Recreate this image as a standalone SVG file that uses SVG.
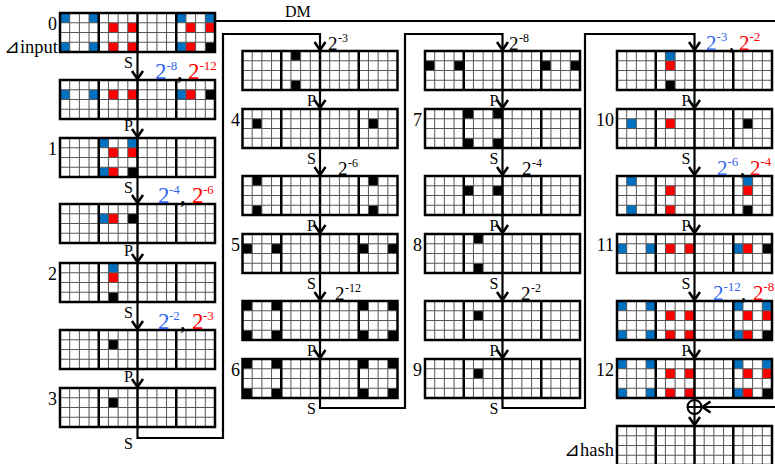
<svg xmlns="http://www.w3.org/2000/svg" width="775" height="464" viewBox="0 0 775 464">
<style>
text{font-family:"Liberation Serif","Times New Roman","DejaVu Serif",serif;fill:#000}
.n{font-size:18px;text-anchor:end}
.sp{font-size:16px}
.p1{font-size:23px}
.p2{font-size:19px}
.p4{font-size:21px}
.e{font-size:13px}
.e2{font-size:12px}
.bl{fill:#3366ee}
.rd{fill:#ff0000}
.b{fill:#0070c0}
.r{fill:#ff0000}
.k{fill:#000}
.thin{fill:none;stroke:#555;stroke-width:1}
.thick{fill:none;stroke:#000;stroke-width:2.5}
.conn{fill:none;stroke:#000;stroke-width:2.2}
.ar{marker-end:url(#ah)}
</style>
<defs>
<marker id="ah" markerUnits="userSpaceOnUse" markerWidth="14" markerHeight="14" refX="0" refY="0" orient="auto" overflow="visible">
<path d="M-9,-5.5 L-1,0 L-9,5.5" fill="none" stroke="#000" stroke-width="2.6"/>
</marker>
<rect id="c" width="9.69" height="9.75"/>
<g id="grid">
<path class="thin" d="M9.69 0V39M19.38 0V39M29.06 0V39M48.44 0V39M58.13 0V39M67.81 0V39M87.19 0V39M96.88 0V39M106.56 0V39M125.94 0V39M135.63 0V39M145.31 0V39M0 9.75H155M0 19.5H155M0 29.25H155"/>
<path class="thick" d="M0 0H155V39H0ZM38.75 0V39M77.5 0V39M116.25 0V39"/>
</g>
<g id="full">
<use href="#c" class="b" x="0" y="0"/><use href="#c" class="b" x="29.06" y="0"/><use href="#c" class="b" x="0" y="29.25"/><use href="#c" class="b" x="29.06" y="29.25"/>
<use href="#c" class="b" x="116.25" y="0"/><use href="#c" class="b" x="145.31" y="0"/><use href="#c" class="b" x="116.25" y="29.25"/>
<use href="#c" class="r" x="48.44" y="9.75"/><use href="#c" class="r" x="67.81" y="9.75"/><use href="#c" class="r" x="48.44" y="29.25"/><use href="#c" class="r" x="67.81" y="29.25"/>
<use href="#c" class="r" x="125.94" y="9.75"/><use href="#c" class="r" x="145.31" y="9.75"/><use href="#c" class="r" x="125.94" y="29.25"/>
<use href="#c" class="k" x="145.31" y="29.25"/>
</g>
<g id="corners">
<use href="#c" x="0" y="0"/><use href="#c" x="29.06" y="0"/><use href="#c" x="0" y="29.25"/><use href="#c" x="29.06" y="29.25"/>
<use href="#c" x="116.25" y="0"/><use href="#c" x="145.31" y="0"/><use href="#c" x="116.25" y="29.25"/><use href="#c" x="145.31" y="29.25"/>
</g>
</defs>
<rect width="775" height="464" fill="#fff"/>

<g id="connectors">
<path class="conn ar" d="M137.5 52V80"/>
<path class="conn ar" d="M137.5 119V138"/>
<path class="conn ar" d="M137.5 177V204"/>
<path class="conn ar" d="M137.5 243V263"/>
<path class="conn ar" d="M137.5 302V330"/>
<path class="conn ar" d="M137.5 369V388"/>
<path class="conn ar" d="M137.5 427V438H223V34H320V51"/>
<path class="conn ar" d="M320 90V109"/>
<path class="conn ar" d="M320 148V176"/>
<path class="conn ar" d="M320 215V234"/>
<path class="conn ar" d="M320 273V301"/>
<path class="conn ar" d="M320 340V359"/>
<path class="conn ar" d="M320 398V408H405V34H502.5V51"/>
<path class="conn ar" d="M502.5 90V109"/>
<path class="conn ar" d="M502.5 148V176"/>
<path class="conn ar" d="M502.5 215V234"/>
<path class="conn ar" d="M502.5 273V301"/>
<path class="conn ar" d="M502.5 340V359"/>
<path class="conn ar" d="M502.5 398V408H585V34H694.5V51"/>
<path class="conn ar" d="M694.5 90V109"/>
<path class="conn ar" d="M694.5 148V176"/>
<path class="conn ar" d="M694.5 215V234"/>
<path class="conn ar" d="M694.5 273V301"/>
<path class="conn ar" d="M694.5 340V359"/>
<path class="conn" d="M694.5 398V400"/>
<path class="conn ar" d="M694.5 414V426"/>
<path class="conn ar" d="M215 21H778V407H701.5"/>
<g id="xor">
<circle cx="694.5" cy="407" r="7" fill="#fff" stroke="#000" stroke-width="2"/>
<path d="M687.5 407H701.5M694.5 400V414" stroke="#000" stroke-width="2" fill="none"/>
</g>
<text x="285" y="17" class="sp">DM</text>
</g>

<!-- Column 1 -->
<g id="s0" transform="translate(60,13)"><use href="#full"/><use href="#grid"/></g>
<g id="s0s" transform="translate(60,80)">
<use href="#c" class="b" x="0" y="9.75"/><use href="#c" class="b" x="29.06" y="9.75"/><use href="#c" class="b" x="116.25" y="9.75"/>
<use href="#c" class="r" x="48.44" y="9.75"/><use href="#c" class="r" x="67.81" y="9.75"/><use href="#c" class="r" x="125.94" y="9.75"/>
<use href="#c" class="k" x="145.31" y="9.75"/><use href="#grid"/></g>
<g id="s1" transform="translate(60,138)">
<use href="#c" class="b" x="38.75" y="0"/><use href="#c" class="b" x="67.81" y="0"/><use href="#c" class="b" x="38.75" y="29.25"/>
<use href="#c" class="r" x="48.44" y="9.75"/><use href="#c" class="r" x="67.81" y="9.75"/><use href="#c" class="r" x="48.44" y="29.25"/>
<use href="#c" class="k" x="67.81" y="29.25"/><use href="#grid"/></g>
<g id="s1s" transform="translate(60,204)">
<use href="#c" class="b" x="38.75" y="9.75"/><use href="#c" class="r" x="48.44" y="9.75"/><use href="#c" class="k" x="67.81" y="9.75"/><use href="#grid"/></g>
<g id="s2" transform="translate(60,263)">
<use href="#c" class="b" x="48.44" y="0"/><use href="#c" class="r" x="48.44" y="9.75"/><use href="#c" class="k" x="48.44" y="29.25"/><use href="#grid"/></g>
<g id="s2s" transform="translate(60,330)"><use href="#c" class="k" x="48.44" y="9.75"/><use href="#grid"/></g>
<g id="s3" transform="translate(60,388)"><use href="#c" class="k" x="48.44" y="9.75"/><use href="#grid"/></g>

<!-- Column 2 -->
<g id="s3s" transform="translate(242.5,51)"><use href="#c" class="k" x="48.44" y="0"/><use href="#c" class="k" x="48.44" y="29.25"/><use href="#grid"/></g>
<g id="s4" transform="translate(242.5,109)"><use href="#c" class="k" x="9.69" y="9.75"/><use href="#c" class="k" x="125.94" y="9.75"/><use href="#grid"/></g>
<g id="s4s" transform="translate(242.5,176)"><use href="#c" class="k" x="9.69" y="0"/><use href="#c" class="k" x="9.69" y="29.25"/><use href="#c" class="k" x="125.94" y="0"/><use href="#c" class="k" x="125.94" y="29.25"/><use href="#grid"/></g>
<g id="s5" transform="translate(242.5,234)"><use href="#c" class="k" x="0" y="9.75"/><use href="#c" class="k" x="29.06" y="9.75"/><use href="#c" class="k" x="116.25" y="9.75"/><use href="#c" class="k" x="145.31" y="9.75"/><use href="#grid"/></g>
<g id="s5s" transform="translate(242.5,301)"><use href="#corners" class="k"/><use href="#grid"/></g>
<g id="s6" transform="translate(242.5,359)"><use href="#corners" class="k"/><use href="#grid"/></g>

<!-- Column 3 -->
<g id="s6s" transform="translate(425,51)"><use href="#c" class="k" x="0" y="9.75"/><use href="#c" class="k" x="29.06" y="9.75"/><use href="#c" class="k" x="116.25" y="9.75"/><use href="#c" class="k" x="145.31" y="9.75"/><use href="#grid"/></g>
<g id="s7" transform="translate(425,109)"><use href="#c" class="k" x="38.75" y="0"/><use href="#c" class="k" x="67.81" y="0"/><use href="#c" class="k" x="38.75" y="29.25"/><use href="#c" class="k" x="67.81" y="29.25"/><use href="#grid"/></g>
<g id="s7s" transform="translate(425,176)"><use href="#c" class="k" x="38.75" y="9.75"/><use href="#c" class="k" x="67.81" y="9.75"/><use href="#grid"/></g>
<g id="s8" transform="translate(425,234)"><use href="#c" class="k" x="48.44" y="0"/><use href="#c" class="k" x="48.44" y="29.25"/><use href="#grid"/></g>
<g id="s8s" transform="translate(425,301)"><use href="#c" class="k" x="48.44" y="9.75"/><use href="#grid"/></g>
<g id="s9" transform="translate(425,359)"><use href="#c" class="k" x="48.44" y="9.75"/><use href="#grid"/></g>

<!-- Column 4 -->
<g id="s9s" transform="translate(617,51)"><use href="#c" class="b" x="48.44" y="0"/><use href="#c" class="r" x="48.44" y="9.75"/><use href="#c" class="k" x="48.44" y="29.25"/><use href="#grid"/></g>
<g id="s10" transform="translate(617,109)"><use href="#c" class="b" x="9.69" y="9.75"/><use href="#c" class="r" x="48.44" y="9.75"/><use href="#c" class="k" x="125.94" y="9.75"/><use href="#grid"/></g>
<g id="s10s" transform="translate(617,176)">
<use href="#c" class="b" x="9.69" y="0"/><use href="#c" class="b" x="9.69" y="29.25"/><use href="#c" class="b" x="125.94" y="0"/>
<use href="#c" class="r" x="48.44" y="9.75"/><use href="#c" class="r" x="48.44" y="29.25"/><use href="#c" class="r" x="125.94" y="9.75"/>
<use href="#c" class="k" x="125.94" y="29.25"/><use href="#grid"/></g>
<g id="s11" transform="translate(617,234)">
<use href="#c" class="b" x="0" y="9.75"/><use href="#c" class="b" x="29.06" y="9.75"/><use href="#c" class="b" x="116.25" y="9.75"/>
<use href="#c" class="r" x="48.44" y="9.75"/><use href="#c" class="r" x="67.81" y="9.75"/><use href="#c" class="r" x="125.94" y="9.75"/>
<use href="#c" class="k" x="145.31" y="9.75"/><use href="#grid"/></g>
<g id="s11s" transform="translate(617,301)"><use href="#full"/><use href="#grid"/></g>
<g id="s12" transform="translate(617,359)"><use href="#full"/><use href="#grid"/></g>
<g id="hash" transform="translate(617,426)"><use href="#grid"/></g>

<g id="labels">
<text class="n" x="57" y="30">0</text>
<text class="n" x="58" y="53" style="font-size:18.5px">⊿input</text>
<text class="n" x="57" y="155">1</text>
<text class="n" x="57" y="280">2</text>
<text class="n" x="57" y="405">3</text>
<text class="n" x="240" y="126">4</text>
<text class="n" x="240" y="251">5</text>
<text class="n" x="240" y="376">6</text>
<text class="n" x="422" y="126">7</text>
<text class="n" x="422" y="251">8</text>
<text class="n" x="422" y="376">9</text>
<text class="n" x="614" y="126">10</text>
<text class="n" x="614" y="251">11</text>
<text class="n" x="614" y="376">12</text>
<text class="n" x="614" y="456" style="font-size:18.5px">⊿hash</text>

<text class="sp" x="124" y="68">S</text>
<text class="sp" x="124" y="131">P</text>
<text class="sp" x="124" y="193">S</text>
<text class="sp" x="124" y="256">P</text>
<text class="sp" x="124" y="318">S</text>
<text class="sp" x="124" y="382">P</text>
<text class="sp" x="124" y="449">S</text>

<text class="sp" x="307" y="106">P</text>
<text class="sp" x="307" y="164">S</text>
<text class="sp" x="307" y="231">P</text>
<text class="sp" x="307" y="289">S</text>
<text class="sp" x="307" y="356">P</text>
<text class="sp" x="307" y="414">S</text>

<text class="sp" x="489.5" y="106">P</text>
<text class="sp" x="489.5" y="164">S</text>
<text class="sp" x="489.5" y="231">P</text>
<text class="sp" x="489.5" y="289">S</text>
<text class="sp" x="489.5" y="356">P</text>
<text class="sp" x="489.5" y="414">S</text>

<text class="sp" x="681.5" y="106">P</text>
<text class="sp" x="681.5" y="164">S</text>
<text class="sp" x="681.5" y="231">P</text>
<text class="sp" x="681.5" y="289">S</text>
<text class="sp" x="681.5" y="356">P</text>

<text class="p1 bl" x="155" y="79">2</text><text class="e bl" x="166.5" y="70">-8</text>
<text class="p1" x="177" y="79">,</text>
<text class="p1 rd" x="188" y="79">2</text><text class="e rd" x="199.5" y="70">-12</text>

<text class="p1 bl" x="158" y="203">2</text><text class="e bl" x="169" y="194">-4</text>
<text class="p1" x="180" y="203">,</text>
<text class="p1 rd" x="192" y="203">2</text><text class="e rd" x="203" y="194">-6</text>

<text class="p1 bl" x="158" y="329">2</text><text class="e bl" x="169" y="320">-2</text>
<text class="p1" x="180" y="329">,</text>
<text class="p1 rd" x="192" y="329">2</text><text class="e rd" x="203" y="320">-3</text>

<text class="p2" x="328" y="50">2</text><text class="e2" x="338" y="42">-3</text>
<text class="p2" x="338" y="175">2</text><text class="e2" x="348" y="167">-6</text>
<text class="p2" x="335" y="300">2</text><text class="e2" x="345" y="292">-12</text>

<text class="p2" x="509" y="50">2</text><text class="e2" x="519" y="42">-8</text>
<text class="p2" x="522" y="175">2</text><text class="e2" x="532" y="167">-4</text>
<text class="p2" x="521" y="300">2</text><text class="e2" x="531" y="292">-2</text>

<text class="p4 bl" x="706" y="50">2</text><text class="e bl" x="716.5" y="41">-3</text>
<text class="p4" x="729" y="50">,</text>
<text class="p4 rd" x="739" y="50">2</text><text class="e rd" x="749.5" y="41">-2</text>

<text class="p4 bl" x="717" y="175">2</text><text class="e bl" x="727.5" y="166">-6</text>
<text class="p4" x="740" y="175">,</text>
<text class="p4 rd" x="750" y="175">2</text><text class="e rd" x="760.5" y="166">-4</text>

<text class="p4 bl" x="713" y="300">2</text><text class="e bl" x="723.5" y="291">-12</text>
<text class="p4" x="741" y="300">,</text>
<text class="p4 rd" x="753" y="300">2</text><text class="e rd" x="763.5" y="291">-8</text>
</g>
</svg>
